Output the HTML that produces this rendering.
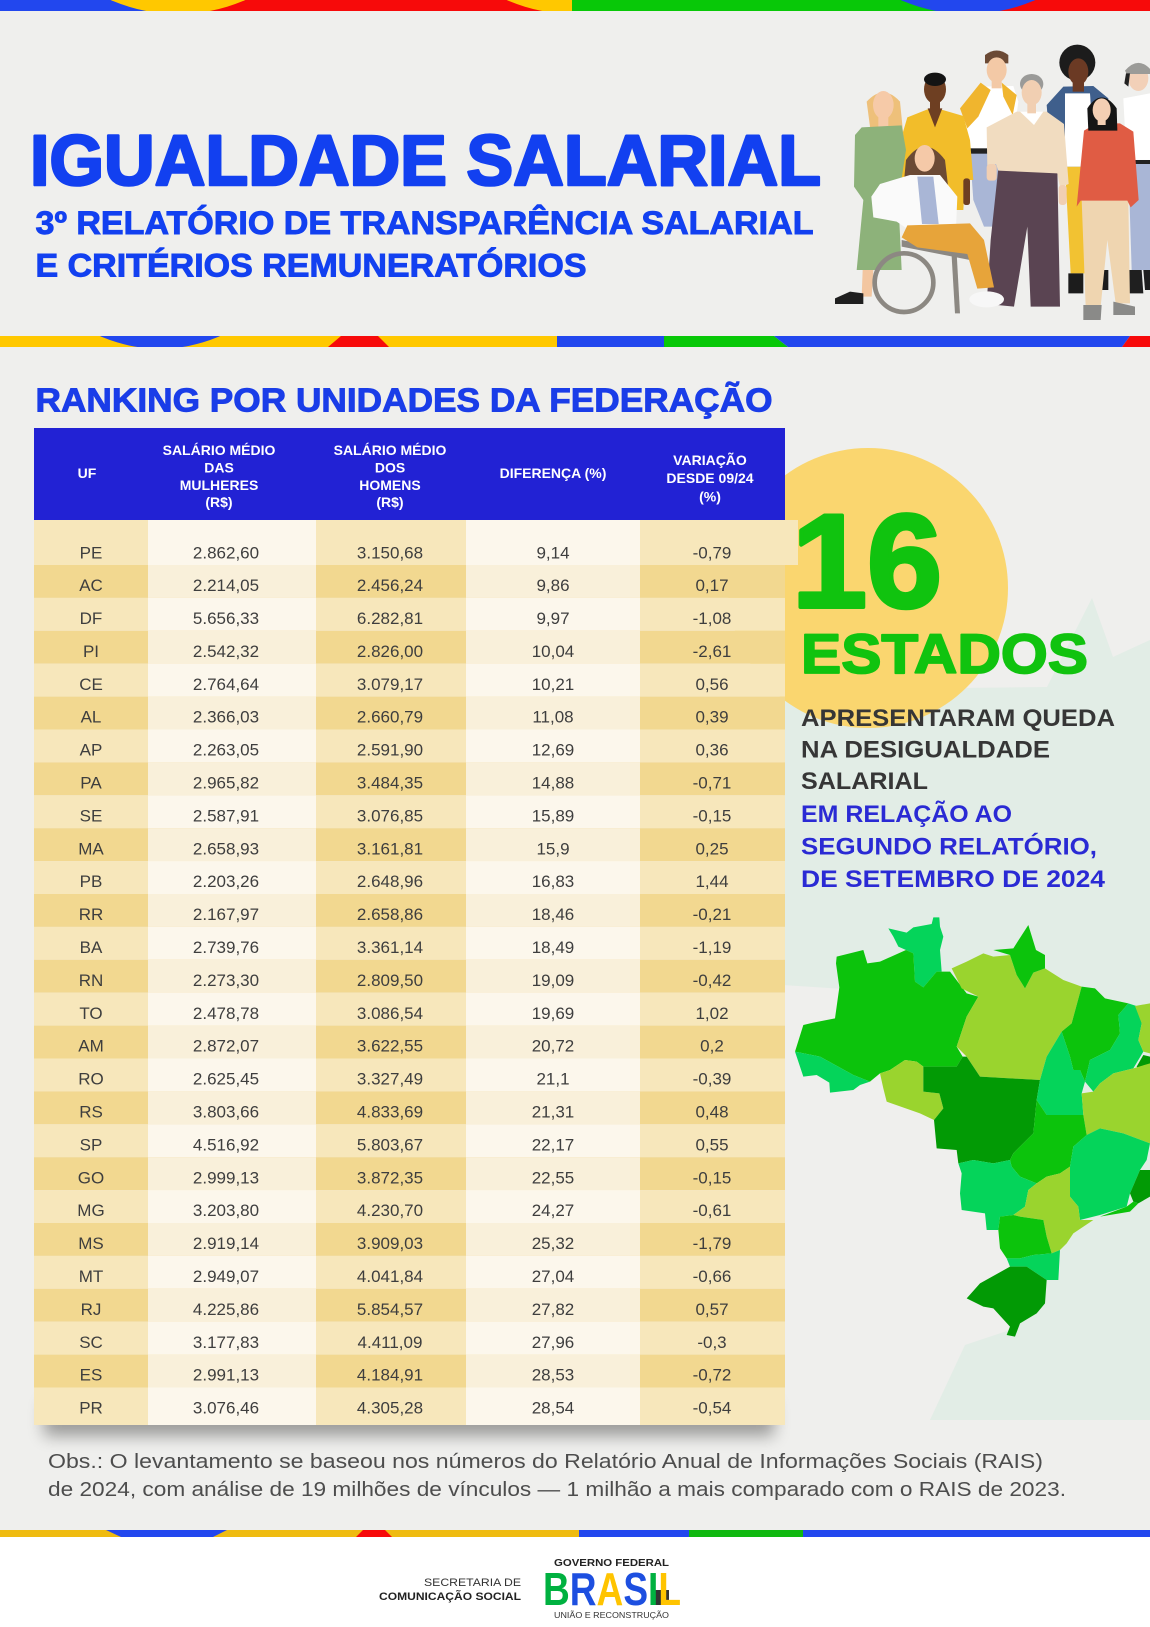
<!DOCTYPE html>
<html lang="pt-BR">
<head>
<meta charset="utf-8">
<title>Igualdade Salarial</title>
<style>
html,body{margin:0;padding:0;background:#efefed;}
svg{display:block;}
.hd{font-family:"Liberation Sans",Arial,sans-serif;font-weight:bold;font-size:14px;fill:#ffffff;text-anchor:middle;}
.dt text{font-family:"Liberation Sans",Arial,sans-serif;font-size:17px;fill:#3e3e3e;text-anchor:middle;}
.r0 .d{fill:#f7e7bb}.r0 .l{fill:#fcf7ec}
.r1 .d{fill:#f2d890}.r1 .l{fill:#f9f0da}
</style>
</head>
<body>
<svg width="1150" height="1627" viewBox="0 0 1150 1627" xmlns="http://www.w3.org/2000/svg" font-family="'Liberation Sans', Arial, sans-serif">
<defs>
 <clipPath id="ct"><rect x="0" y="0" width="1150" height="11"/></clipPath>
 <clipPath id="cm"><rect x="0" y="336" width="1150" height="11"/></clipPath>
 <filter id="sh" x="-10%" y="-100%" width="120%" height="300%"><feGaussianBlur stdDeviation="8"/></filter>
</defs>

<!-- background -->
<rect width="1150" height="1627" fill="#efefed"/>
<rect y="1537" width="1150" height="90" fill="#ffffff"/>

<!-- top stripe -->
<g clip-path="url(#ct)">
 <rect x="0" y="0" width="178" height="11" fill="#2247ee"/>
 <rect x="178" y="0" width="394" height="11" fill="#f70a0a"/>
 <circle cx="178" cy="-155" r="169" fill="#ffc800"/>
 <circle cx="574" cy="-155" r="169" fill="#ffc800"/>
 <rect x="572" y="0" width="396" height="11" fill="#08c808"/>
 <rect x="968" y="0" width="182" height="11" fill="#f70a0a"/>
 <circle cx="968" cy="-155" r="169" fill="#2247ee"/>
</g>

<!-- header titles -->
<text x="30" y="185" font-size="71" font-weight="bold" fill="#1240f0" stroke="#1240f0" stroke-width="2.6" stroke-linejoin="round" textLength="791" lengthAdjust="spacingAndGlyphs">IGUALDADE SALARIAL</text>
<text x="35.5" y="234" font-size="32" font-weight="bold" fill="#1240f0" stroke="#1240f0" stroke-width="0.9" textLength="778" lengthAdjust="spacingAndGlyphs">3º RELATÓRIO DE TRANSPARÊNCIA SALARIAL</text>
<text x="35.5" y="276.5" font-size="32" font-weight="bold" fill="#1240f0" stroke="#1240f0" stroke-width="0.9" textLength="551" lengthAdjust="spacingAndGlyphs">E CRITÉRIOS REMUNERATÓRIOS</text>

<!-- people illustration -->
<g transform="translate(830,40) scale(0.33333)">
 <path d="M880,175 L960,160 L960,370 L890,370 Z" fill="#ffffff"/>
 <rect x="890" y="360" width="70" height="14" fill="#222"/>
 <path d="M895,372 L960,372 L960,690 L905,690 Z" fill="#a9b6d6"/>
 <path d="M885,690 L935,690 L940,760 L885,760 Z" fill="#1f1f1f"/>
 <path d="M940,690 L960,690 L960,750 L945,750Z" fill="#1f1f1f"/>
 <ellipse cx="925" cy="115" rx="30" ry="38" fill="#f2d0b8"/>
 <path d="M885,92 Q925,45 965,92 L960,102 L890,102 Z" fill="#9b9b98"/>
 <path d="M888,100 L900,100 L895,140 L883,130 Z" fill="#222"/>

 <path d="M705,380 L790,380 L765,700 L722,700 Z" fill="#f2c232"/>
 <path d="M715,700 L760,700 L760,760 L715,760 Z" fill="#1c1c1c"/>
 <path d="M810,690 L835,690 L835,750 L815,750 Z" fill="#1c1c1c"/>
 <path d="M650,195 L700,140 L790,138 L835,175 L825,260 L800,262 L795,380 L700,380 L690,270 L655,255 Z" fill="#3f5f8c"/>
 <path d="M705,160 L780,160 L795,380 L705,380 Z" fill="#ffffff"/>
 <circle cx="742" cy="68" r="54" fill="#1c1c1c"/>
 <ellipse cx="745" cy="95" rx="30" ry="40" fill="#6b3a24"/>
 <rect x="728" y="120" width="34" height="35" fill="#6b3a24"/>

 <path d="M420,340 L520,340 L512,560 L462,560 L430,480 Z" fill="#a9b6d6"/>
 <path d="M405,190 L455,140 L550,138 L565,185 L545,335 L420,335 L410,260 Z" fill="#ffffff"/>
 <rect x="420" y="325" width="100" height="16" fill="#222"/>
 <path d="M390,205 L452,128 L482,150 L445,230 L412,265 Z" fill="#f0b52e"/>
 <path d="M515,128 L560,165 L548,225 L520,170 Z" fill="#f0b52e"/>
 <path d="M465,45 Q500,18 535,45 L535,70 L465,70 Z" fill="#6b4a35"/>
 <ellipse cx="500" cy="90" rx="30" ry="38" fill="#f3c9a6"/>
 <rect x="485" y="115" width="30" height="30" fill="#f3c9a6"/>

 <path d="M232,232 L300,205 L332,208 L400,228 L420,300 L430,420 L405,420 L400,510 L235,510 L205,410 L212,300 Z" fill="#f2bd2a"/>
 <path d="M293,205 L337,205 L315,262 Z" fill="#6e3f22"/>
 <rect x="300" y="180" width="30" height="30" fill="#6e3f22"/>
 <ellipse cx="315" cy="148" rx="33" ry="43" fill="#6e3f22"/>
 <ellipse cx="315" cy="118" rx="33" ry="20" fill="#141414"/>
 <rect x="400" y="415" width="20" height="80" rx="8" fill="#6e3f22"/>

 <path d="M110,185 Q160,130 210,185 L225,335 L195,340 L120,260 Z" fill="#eec07a"/>
 <ellipse cx="160" cy="195" rx="31" ry="42" fill="#f6caa8"/>
 <rect x="145" y="228" width="30" height="32" fill="#f6caa8"/>
 <path d="M95,262 L215,256 L228,330 L205,480 L215,690 L80,690 L100,480 L72,440 L75,285 Z" fill="#8db27a"/>
 <path d="M98,690 L130,690 L125,770 L95,770 Z" fill="#f3c6a0"/>
 <path d="M15,775 L60,755 L100,760 L100,792 L15,792 Z" fill="#1f1f1f"/>

 <path d="M505,385 L682,385 L690,800 L602,800 L592,560 L552,800 L470,792 L482,600 Z" fill="#5a4452"/>
 <path d="M470,262 L560,215 L650,215 L702,252 L716,432 L690,442 L682,400 L505,392 L498,372 L472,382 Z" fill="#f1dcc0"/>
 <path d="M570,215 L640,215 L612,255 Z" fill="#ffffff"/>
 <ellipse cx="605" cy="132" rx="35" ry="30" fill="#9a9a98"/>
 <ellipse cx="605" cy="158" rx="30" ry="38" fill="#f1cfb2"/>
 <rect x="592" y="185" width="26" height="35" fill="#f1cfb2"/>
 <rect x="470" y="372" width="30" height="50" rx="10" fill="#f1cfb2"/>
 <rect x="686" y="435" width="24" height="60" rx="10" fill="#f1cfb2"/>

 <path d="M755,480 L895,480 L900,790 L857,790 L832,600 L812,800 L767,800 Z" fill="#efd5b0"/>
 <path d="M760,795 L815,795 L812,840 L760,840 Z" fill="#8a8a88"/>
 <path d="M850,785 L915,800 L915,825 L850,825 Z" fill="#8a8a88"/>
 <path d="M762,272 L800,250 L870,250 L910,275 L926,480 L902,502 L892,482 L752,482 L740,500 Z" fill="#e05c44"/>
 <path d="M772,205 Q815,140 860,205 L862,272 L775,272 Z" fill="#151515"/>
 <ellipse cx="815" cy="210" rx="27" ry="35" fill="#f3cfb4"/>
 <rect x="803" y="235" width="24" height="20" fill="#f3cfb4"/>

 <circle cx="222" cy="728" r="88" fill="none" stroke="#8c8882" stroke-width="14"/>
 <path d="M215,600 L420,640 L420,660 L215,620 Z" fill="#8c8882"/>
 <path d="M380,640 L390,820 L375,820 L365,650 Z" fill="#8c8882"/>
 <path d="M228,360 Q285,280 345,360 L355,445 L220,445 Z" fill="#6b4a35"/>
 <ellipse cx="284" cy="355" rx="30" ry="40" fill="#f5c9a8"/>
 <path d="M150,432 L240,405 L330,405 L382,470 L378,565 L240,572 L200,545 L130,532 L124,470 Z" fill="#fafafa"/>
 <path d="M262,410 L310,410 L326,552 L276,552 Z" fill="#a9b6d6"/>
 <path d="M232,556 L420,550 L462,600 L492,742 L442,746 L412,642 L262,622 L215,592 Z" fill="#e7a43a"/>
 <ellipse cx="470" cy="778" rx="52" ry="24" fill="#f7f7f7"/>
</g>

<!-- header bottom stripe -->
<g clip-path="url(#cm)">
 <rect x="0" y="336" width="557" height="11" fill="#ffc800"/>
 <circle cx="160" cy="200" r="148.7" fill="#2247ee"/>
 <polygon points="341,336 378,336 389,347 328,347" fill="#f70a0a"/>
 <rect x="557" y="336" width="107" height="11" fill="#2247ee"/>
 <polygon points="664,336 774,336 788,347 664,347" fill="#08c808"/>
 <polygon points="774,336 1130,336 1122,347 788,347" fill="#2247ee"/>
 <polygon points="1130,336 1150,336 1150,347 1122,347" fill="#f70a0a"/>
</g>

<!-- section title -->
<text x="35.5" y="411.7" font-size="33" font-weight="bold" fill="#1a3de8" stroke="#1a3de8" stroke-width="0.9" textLength="737" lengthAdjust="spacingAndGlyphs">RANKING POR UNIDADES DA FEDERAÇÃO</text>

<!-- right panel background shapes -->
<polygon points="783,690 1047,687 1092,598 1113,657 1150,640 1150,1420 930,1420 965,1345 1010,1330 1045,1230 1050,1000 860,990 783,985" fill="#d5ece0" opacity="0.5"/>
<circle cx="868" cy="588" r="140" fill="#fad66f"/>

<!-- map -->
<g transform="translate(780,900) scale(0.33333)">
 <polygon fill="#05d45a" points="325,85 380,98 400,82 455,72 460,52 478,52 480,80 490,110 480,150 485,215 470,215 430,262 405,245 400,160 378,150 355,140 340,110"/>
 <polygon fill="#0cc30c" points="170,170 250,150 262,190 300,185 378,150 400,160 405,245 430,262 470,215 510,215 560,280 595,290 560,350 530,440 548,470 530,500 430,500 410,485 375,480 330,510 300,520 270,545 220,525 120,470 45,455 70,375 100,368 165,355 178,262 168,190"/>
 <polygon fill="#05d45a" points="45,455 120,470 220,525 270,545 240,555 220,570 150,578 148,548 110,525 70,530"/>
 <polygon fill="#9ad42e" points="300,520 330,510 375,480 410,485 430,500 430,575 478,580 490,625 462,660 420,640 320,605 310,565"/>
 <polygon fill="#9ad42e" points="515,205 560,185 610,160 640,170 690,165 710,225 735,265 760,218 795,205 850,240 905,260 875,370 845,395 800,470 780,540 600,530 560,470 530,440 560,350 595,290 545,265"/>
 <polygon fill="#0cc30c" points="640,150 700,145 745,75 768,150 795,165 795,205 760,218 735,265 710,225 690,165"/>
 <polygon fill="#029a05" points="430,500 530,500 548,470 560,470 600,530 780,540 770,600 760,700 700,760 690,780 640,790 580,780 535,790 530,750 470,745 462,660 490,625 478,580 430,575"/>
 <polygon fill="#0cc30c" points="905,260 945,265 975,295 1045,310 1015,345 1020,400 990,450 930,480 915,545 900,510 880,510 870,470 845,395 875,370"/>
 <polygon fill="#05d45a" points="845,395 870,470 880,510 900,510 915,545 905,580 910,645 800,645 770,600 780,540 800,470"/>
 <polygon fill="#05d45a" points="1015,345 1045,310 1075,320 1085,370 1075,420 1090,455 1060,505 1000,520 960,550 940,575 915,545 930,480 990,450 1020,400"/>
 <polygon fill="#9ad42e" points="1065,318 1110,310 1110,460 1090,455 1075,420 1085,370"/>
 <polygon fill="#029a05" points="1070,500 1090,465 1110,470 1110,520 1082,525"/>
 <polygon fill="#9ad42e" points="905,580 940,575 960,550 1000,520 1060,505 1110,490 1110,730 1030,700 960,685 920,705 910,645"/>
 <polygon fill="#0cc30c" points="770,600 800,645 910,645 920,705 880,740 870,800 840,820 800,830 770,850 720,830 695,800 690,780 700,760 760,700"/>
 <polygon fill="#05d45a" points="880,740 920,705 960,685 1030,700 1110,730 1100,780 1080,810 1050,880 1040,920 960,945 900,960 895,920 870,890 870,800"/>
 <polygon fill="#029a05" points="1050,880 1080,810 1110,810 1110,890 1075,910 1060,905"/>
 <polygon fill="#0cc30c" points="1040,920 1060,905 1075,910 1050,935 960,950"/>
 <polygon fill="#05d45a" points="535,790 580,780 640,790 690,780 695,800 720,830 770,850 745,870 735,920 700,945 660,950 655,990 620,990 615,940 545,930 540,880 545,820"/>
 <polygon fill="#9ad42e" points="700,945 735,920 745,870 770,850 800,830 840,820 870,800 870,890 895,920 900,960 940,960 880,1000 860,1030 840,1050 815,1060 800,1010 790,960 720,950"/>
 <polygon fill="#0cc30c" points="660,950 700,945 720,950 790,960 800,1010 815,1060 760,1065 720,1075 680,1075 660,1045 655,990"/>
 <polygon fill="#05d45a" points="680,1075 720,1075 760,1065 815,1060 840,1050 835,1140 800,1140 740,1100 690,1100"/>
 <polygon fill="#029a05" points="690,1100 740,1100 800,1140 795,1210 770,1240 720,1270 705,1310 680,1305 690,1280 640,1225 610,1220 560,1195 600,1150"/>
</g>

<!-- right panel text -->
<text x="792" y="607" font-size="133" font-weight="bold" fill="#10c30f" stroke="#10c30f" stroke-width="4" stroke-linejoin="round" textLength="150" lengthAdjust="spacingAndGlyphs">16</text>
<text x="801" y="673" font-size="55.5" font-weight="bold" fill="#10c30f" stroke="#10c30f" stroke-width="1.8" stroke-linejoin="round" textLength="287" lengthAdjust="spacingAndGlyphs">ESTADOS</text>
<g font-size="24.5" font-weight="bold">
 <text x="801" y="726" fill="#363636" textLength="314" lengthAdjust="spacingAndGlyphs">APRESENTARAM QUEDA</text>
 <text x="801" y="757.5" fill="#363636" textLength="249" lengthAdjust="spacingAndGlyphs">NA DESIGUALDADE</text>
 <text x="801" y="789" fill="#363636" textLength="127" lengthAdjust="spacingAndGlyphs">SALARIAL</text>
 <text x="801" y="822" fill="#2a2ad4" textLength="211" lengthAdjust="spacingAndGlyphs">EM RELAÇÃO AO</text>
 <text x="801" y="854.5" fill="#2a2ad4" textLength="296" lengthAdjust="spacingAndGlyphs">SEGUNDO RELATÓRIO,</text>
 <text x="801" y="887" fill="#2a2ad4" textLength="304" lengthAdjust="spacingAndGlyphs">DE SETEMBRO DE 2024</text>
</g>

<!-- table shadow -->
<rect x="44" y="1402" width="730" height="34" fill="#000" opacity="0.35" filter="url(#sh)"/>

<!-- table header -->
<rect x="34" y="428" width="751" height="92" fill="#2222d4"/>
<g class="hd">
 <text x="87" y="478">UF</text>
 <text x="219" y="455">SALÁRIO MÉDIO</text>
 <text x="219" y="472.5">DAS</text>
 <text x="219" y="490">MULHERES</text>
 <text x="219" y="507">(R$)</text>
 <text x="390" y="455">SALÁRIO MÉDIO</text>
 <text x="390" y="472.5">DOS</text>
 <text x="390" y="490">HOMENS</text>
 <text x="390" y="507">(R$)</text>
 <text x="553" y="478">DIFERENÇA (%)</text>
 <text x="710" y="465">VARIAÇÃO</text>
 <text x="710" y="483">DESDE 09/24</text>
 <text x="710" y="501.5">(%)</text>
</g>

<!-- table rows -->
<rect x="783" y="520" width="15" height="45" fill="#f7e7bb"/>
<g class="dt">
<g class="r0" transform="translate(0,520)"><rect class="d" x="34" width="751" height="45"/><rect class="l" x="148" width="168" height="45"/><rect class="l" x="466" width="174" height="45"/><text x="91" y="38.4">PE</text><text x="226" y="38.4">2.862,60</text><text x="390" y="38.4">3.150,68</text><text x="553" y="38.4">9,14</text><text x="712" y="38.4">-0,79</text></g>
<g class="r1" transform="translate(0,565)"><rect class="d" x="34" width="751" height="32.9"/><rect class="l" x="148" width="168" height="32.9"/><rect class="l" x="466" width="174" height="32.9"/><text x="91" y="26.1">AC</text><text x="226" y="26.1">2.214,05</text><text x="390" y="26.1">2.456,24</text><text x="553" y="26.1">9,86</text><text x="712" y="26.1">0,17</text></g>
<g class="r0" transform="translate(0,597.9)"><rect class="d" x="34" width="751" height="32.9"/><rect class="l" x="148" width="168" height="32.9"/><rect class="l" x="466" width="174" height="32.9"/><text x="91" y="26.1">DF</text><text x="226" y="26.1">5.656,33</text><text x="390" y="26.1">6.282,81</text><text x="553" y="26.1">9,97</text><text x="712" y="26.1">-1,08</text></g>
<g class="r1" transform="translate(0,630.8)"><rect class="d" x="34" width="751" height="32.9"/><rect class="l" x="148" width="168" height="32.9"/><rect class="l" x="466" width="174" height="32.9"/><text x="91" y="26.1">PI</text><text x="226" y="26.1">2.542,32</text><text x="390" y="26.1">2.826,00</text><text x="553" y="26.1">10,04</text><text x="712" y="26.1">-2,61</text></g>
<g class="r0" transform="translate(0,663.7)"><rect class="d" x="34" width="751" height="32.9"/><rect class="l" x="148" width="168" height="32.9"/><rect class="l" x="466" width="174" height="32.9"/><text x="91" y="26.1">CE</text><text x="226" y="26.1">2.764,64</text><text x="390" y="26.1">3.079,17</text><text x="553" y="26.1">10,21</text><text x="712" y="26.1">0,56</text></g>
<g class="r1" transform="translate(0,696.6)"><rect class="d" x="34" width="751" height="32.9"/><rect class="l" x="148" width="168" height="32.9"/><rect class="l" x="466" width="174" height="32.9"/><text x="91" y="26.1">AL</text><text x="226" y="26.1">2.366,03</text><text x="390" y="26.1">2.660,79</text><text x="553" y="26.1">11,08</text><text x="712" y="26.1">0,39</text></g>
<g class="r0" transform="translate(0,729.5)"><rect class="d" x="34" width="751" height="32.9"/><rect class="l" x="148" width="168" height="32.9"/><rect class="l" x="466" width="174" height="32.9"/><text x="91" y="26.1">AP</text><text x="226" y="26.1">2.263,05</text><text x="390" y="26.1">2.591,90</text><text x="553" y="26.1">12,69</text><text x="712" y="26.1">0,36</text></g>
<g class="r1" transform="translate(0,762.4)"><rect class="d" x="34" width="751" height="32.9"/><rect class="l" x="148" width="168" height="32.9"/><rect class="l" x="466" width="174" height="32.9"/><text x="91" y="26.1">PA</text><text x="226" y="26.1">2.965,82</text><text x="390" y="26.1">3.484,35</text><text x="553" y="26.1">14,88</text><text x="712" y="26.1">-0,71</text></g>
<g class="r0" transform="translate(0,795.3)"><rect class="d" x="34" width="751" height="32.9"/><rect class="l" x="148" width="168" height="32.9"/><rect class="l" x="466" width="174" height="32.9"/><text x="91" y="26.1">SE</text><text x="226" y="26.1">2.587,91</text><text x="390" y="26.1">3.076,85</text><text x="553" y="26.1">15,89</text><text x="712" y="26.1">-0,15</text></g>
<g class="r1" transform="translate(0,828.2)"><rect class="d" x="34" width="751" height="32.9"/><rect class="l" x="148" width="168" height="32.9"/><rect class="l" x="466" width="174" height="32.9"/><text x="91" y="26.1">MA</text><text x="226" y="26.1">2.658,93</text><text x="390" y="26.1">3.161,81</text><text x="553" y="26.1">15,9</text><text x="712" y="26.1">0,25</text></g>
<g class="r0" transform="translate(0,861.1)"><rect class="d" x="34" width="751" height="32.9"/><rect class="l" x="148" width="168" height="32.9"/><rect class="l" x="466" width="174" height="32.9"/><text x="91" y="26.1">PB</text><text x="226" y="26.1">2.203,26</text><text x="390" y="26.1">2.648,96</text><text x="553" y="26.1">16,83</text><text x="712" y="26.1">1,44</text></g>
<g class="r1" transform="translate(0,894)"><rect class="d" x="34" width="751" height="32.9"/><rect class="l" x="148" width="168" height="32.9"/><rect class="l" x="466" width="174" height="32.9"/><text x="91" y="26.1">RR</text><text x="226" y="26.1">2.167,97</text><text x="390" y="26.1">2.658,86</text><text x="553" y="26.1">18,46</text><text x="712" y="26.1">-0,21</text></g>
<g class="r0" transform="translate(0,926.9)"><rect class="d" x="34" width="751" height="32.9"/><rect class="l" x="148" width="168" height="32.9"/><rect class="l" x="466" width="174" height="32.9"/><text x="91" y="26.1">BA</text><text x="226" y="26.1">2.739,76</text><text x="390" y="26.1">3.361,14</text><text x="553" y="26.1">18,49</text><text x="712" y="26.1">-1,19</text></g>
<g class="r1" transform="translate(0,959.8)"><rect class="d" x="34" width="751" height="32.9"/><rect class="l" x="148" width="168" height="32.9"/><rect class="l" x="466" width="174" height="32.9"/><text x="91" y="26.1">RN</text><text x="226" y="26.1">2.273,30</text><text x="390" y="26.1">2.809,50</text><text x="553" y="26.1">19,09</text><text x="712" y="26.1">-0,42</text></g>
<g class="r0" transform="translate(0,992.7)"><rect class="d" x="34" width="751" height="32.9"/><rect class="l" x="148" width="168" height="32.9"/><rect class="l" x="466" width="174" height="32.9"/><text x="91" y="26.1">TO</text><text x="226" y="26.1">2.478,78</text><text x="390" y="26.1">3.086,54</text><text x="553" y="26.1">19,69</text><text x="712" y="26.1">1,02</text></g>
<g class="r1" transform="translate(0,1025.6)"><rect class="d" x="34" width="751" height="32.9"/><rect class="l" x="148" width="168" height="32.9"/><rect class="l" x="466" width="174" height="32.9"/><text x="91" y="26.1">AM</text><text x="226" y="26.1">2.872,07</text><text x="390" y="26.1">3.622,55</text><text x="553" y="26.1">20,72</text><text x="712" y="26.1">0,2</text></g>
<g class="r0" transform="translate(0,1058.5)"><rect class="d" x="34" width="751" height="32.9"/><rect class="l" x="148" width="168" height="32.9"/><rect class="l" x="466" width="174" height="32.9"/><text x="91" y="26.1">RO</text><text x="226" y="26.1">2.625,45</text><text x="390" y="26.1">3.327,49</text><text x="553" y="26.1">21,1</text><text x="712" y="26.1">-0,39</text></g>
<g class="r1" transform="translate(0,1091.4)"><rect class="d" x="34" width="751" height="32.9"/><rect class="l" x="148" width="168" height="32.9"/><rect class="l" x="466" width="174" height="32.9"/><text x="91" y="26.1">RS</text><text x="226" y="26.1">3.803,66</text><text x="390" y="26.1">4.833,69</text><text x="553" y="26.1">21,31</text><text x="712" y="26.1">0,48</text></g>
<g class="r0" transform="translate(0,1124.3)"><rect class="d" x="34" width="751" height="32.9"/><rect class="l" x="148" width="168" height="32.9"/><rect class="l" x="466" width="174" height="32.9"/><text x="91" y="26.1">SP</text><text x="226" y="26.1">4.516,92</text><text x="390" y="26.1">5.803,67</text><text x="553" y="26.1">22,17</text><text x="712" y="26.1">0,55</text></g>
<g class="r1" transform="translate(0,1157.2)"><rect class="d" x="34" width="751" height="32.9"/><rect class="l" x="148" width="168" height="32.9"/><rect class="l" x="466" width="174" height="32.9"/><text x="91" y="26.1">GO</text><text x="226" y="26.1">2.999,13</text><text x="390" y="26.1">3.872,35</text><text x="553" y="26.1">22,55</text><text x="712" y="26.1">-0,15</text></g>
<g class="r0" transform="translate(0,1190.1)"><rect class="d" x="34" width="751" height="32.9"/><rect class="l" x="148" width="168" height="32.9"/><rect class="l" x="466" width="174" height="32.9"/><text x="91" y="26.1">MG</text><text x="226" y="26.1">3.203,80</text><text x="390" y="26.1">4.230,70</text><text x="553" y="26.1">24,27</text><text x="712" y="26.1">-0,61</text></g>
<g class="r1" transform="translate(0,1223)"><rect class="d" x="34" width="751" height="32.9"/><rect class="l" x="148" width="168" height="32.9"/><rect class="l" x="466" width="174" height="32.9"/><text x="91" y="26.1">MS</text><text x="226" y="26.1">2.919,14</text><text x="390" y="26.1">3.909,03</text><text x="553" y="26.1">25,32</text><text x="712" y="26.1">-1,79</text></g>
<g class="r0" transform="translate(0,1255.9)"><rect class="d" x="34" width="751" height="32.9"/><rect class="l" x="148" width="168" height="32.9"/><rect class="l" x="466" width="174" height="32.9"/><text x="91" y="26.1">MT</text><text x="226" y="26.1">2.949,07</text><text x="390" y="26.1">4.041,84</text><text x="553" y="26.1">27,04</text><text x="712" y="26.1">-0,66</text></g>
<g class="r1" transform="translate(0,1288.8)"><rect class="d" x="34" width="751" height="32.9"/><rect class="l" x="148" width="168" height="32.9"/><rect class="l" x="466" width="174" height="32.9"/><text x="91" y="26.1">RJ</text><text x="226" y="26.1">4.225,86</text><text x="390" y="26.1">5.854,57</text><text x="553" y="26.1">27,82</text><text x="712" y="26.1">0,57</text></g>
<g class="r0" transform="translate(0,1321.7)"><rect class="d" x="34" width="751" height="32.9"/><rect class="l" x="148" width="168" height="32.9"/><rect class="l" x="466" width="174" height="32.9"/><text x="91" y="26.1">SC</text><text x="226" y="26.1">3.177,83</text><text x="390" y="26.1">4.411,09</text><text x="553" y="26.1">27,96</text><text x="712" y="26.1">-0,3</text></g>
<g class="r1" transform="translate(0,1354.6)"><rect class="d" x="34" width="751" height="32.9"/><rect class="l" x="148" width="168" height="32.9"/><rect class="l" x="466" width="174" height="32.9"/><text x="91" y="26.1">ES</text><text x="226" y="26.1">2.991,13</text><text x="390" y="26.1">4.184,91</text><text x="553" y="26.1">28,53</text><text x="712" y="26.1">-0,72</text></g>
<g class="r0" transform="translate(0,1387.5)"><rect class="d" x="34" width="751" height="37.5"/><rect class="l" x="148" width="168" height="37.5"/><rect class="l" x="466" width="174" height="37.5"/><text x="91" y="26.1">PR</text><text x="226" y="26.1">3.076,46</text><text x="390" y="26.1">4.305,28</text><text x="553" y="26.1">28,54</text><text x="712" y="26.1">-0,54</text></g>
</g>

<!-- observation -->
<text x="48" y="1468" font-size="20" fill="#4d4d4d" textLength="995" lengthAdjust="spacingAndGlyphs">Obs.: O levantamento se baseou nos números do Relatório Anual de Informações Sociais (RAIS)</text>
<text x="48" y="1496" font-size="20" fill="#4d4d4d" textLength="1018" lengthAdjust="spacingAndGlyphs">de 2024, com análise de 19 milhões de vínculos — 1 milhão a mais comparado com o RAIS de 2023.</text>

<!-- footer stripe -->
<rect x="0" y="1530" width="1150" height="7" fill="#efbb10"/>
<polygon points="106,1530 227,1530 213,1537 121,1537" fill="#2247ee"/>
<polygon points="363,1530 385,1530 392,1537 356,1537" fill="#f70a0a"/>
<rect x="579" y="1530" width="110" height="7" fill="#2247ee"/>
<rect x="689" y="1530" width="114" height="7" fill="#10b810"/>
<rect x="803" y="1530" width="347" height="7" fill="#2247ee"/>

<!-- footer logos -->
<text x="424" y="1586" font-size="11" fill="#333" textLength="97" lengthAdjust="spacingAndGlyphs">SECRETARIA DE</text>
<text x="379" y="1600" font-size="11" font-weight="bold" fill="#222" textLength="142" lengthAdjust="spacingAndGlyphs">COMUNICAÇÃO SOCIAL</text>
<text x="554" y="1566" font-size="10.5" font-weight="bold" fill="#222" textLength="115" lengthAdjust="spacingAndGlyphs">GOVERNO FEDERAL</text>
<rect x="655" y="1590" width="14" height="15" fill="#333"/>
<text x="543" y="1605" font-size="46" font-weight="bold" textLength="138" lengthAdjust="spacingAndGlyphs"><tspan fill="#00b140">B</tspan><tspan fill="#1d4fe0">R</tspan><tspan fill="#ffc400">A</tspan><tspan fill="#1d4fe0">S</tspan><tspan fill="#00b140">I</tspan><tspan fill="#ffc400">L</tspan></text>
<text x="554" y="1618" font-size="8.5" fill="#333" textLength="115" lengthAdjust="spacingAndGlyphs">UNIÃO E RECONSTRUÇÃO</text>
</svg>
</body>
</html>
